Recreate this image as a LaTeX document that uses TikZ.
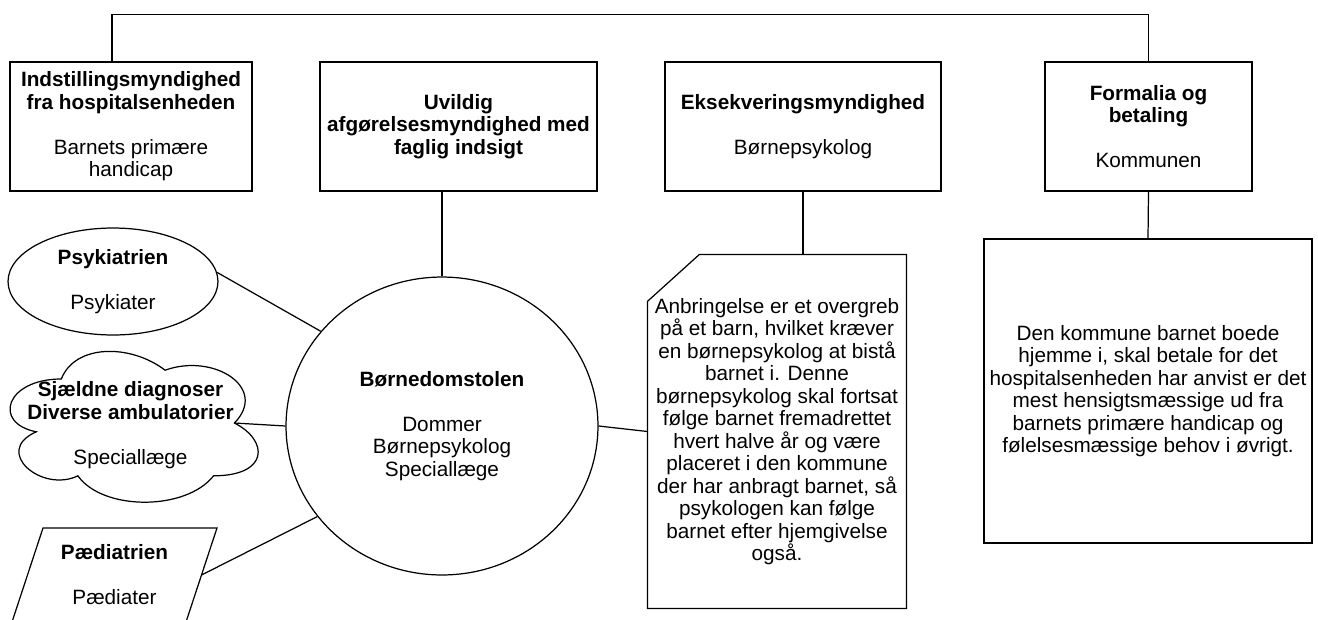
\documentclass[tikz,border=0pt]{standalone}
\usepackage{fontspec}
\setmainfont{Liberation Sans}
\usetikzlibrary{shapes.geometric}

\begin{document}
\begin{tikzpicture}[x=0.02cm, y=-0.02cm, line width=0.7pt,
    every node/.style={font=\fontsize{11.8}{12.8}\selectfont, align=center, inner sep=1pt},
    rolebox/.style={draw, rectangle, minimum height=2.58cm}]
  \useasboundingbox (0, 0) rectangle (1318, 619);

  % Authorities in the top row.
  \node[rolebox, minimum width=4.84cm] (indst) at (131, 126.5)
    {\textbf{Indstillingsmyndighed}\\\textbf{fra hospitalsenheden}\\[12.8pt]Barnets primære\\handicap};
  \node[rolebox, minimum width=5.54cm] (uvildig) at (458.5, 126.5)
    {\textbf{Uvildig}\\\textbf{afgørelsesmyndighed med}\\\textbf{faglig indsigt}};
  \node[rolebox, minimum width=5.52cm] (eksek) at (803, 126.5)
    {\textbf{Eksekveringsmyndighed}\\[12.8pt]Børnepsykolog};
  \node[rolebox, minimum width=4.14cm] (formalia) at (1148.5, 126.5)
    {\textbf{Formalia og}\\\textbf{betaling}\\[12.8pt]Kommunen};
  \draw ([xshift=-0.38cm]indst.north) -- ++(0, -47) -| (formalia.north);

  % The court.
  \node[draw, ellipse, minimum width=6.24cm, minimum height=5.96cm] (court) at (442, 426)
    {\textbf{Børnedomstolen}\\[12.8pt]Dommer\\Børnepsykolog\\Speciallæge};
  \draw (court.north) -- (court.north |- uvildig.south);

  % Specialists on the left.
  \node[draw, ellipse, minimum width=4.2cm, minimum height=2.14cm] (psyk) at (113, 281.5)
    {\textbf{Psykiatrien}\\[12.8pt]Psykiater};

  \draw (61.3, 379) .. controls (5.9, 379) and (-8, 423) .. (36.3, 431.8)
    .. controls (-8, 451.2) and (41.9, 493.4) .. (77.9, 475.8)
    .. controls (102.8, 511) and (185.9, 511) .. (213.6, 475.8)
    .. controls (269, 475.8) and (269, 440.6) .. (234.4, 423)
    .. controls (269, 387.8) and (213.6, 352.6) .. (165.1, 370.2)
    .. controls (130.5, 343.8) and (75.1, 343.8) .. (61.3, 379) -- cycle;
  \node (diag) at (130.5, 425)
    {\textbf{Sjældne diagnoser}\\\textbf{Diverse ambulatorier}\\[12.8pt]Speciallæge};
  \coordinate (diagcusp) at (234.4, 423);

  \draw (43, 528) -- (217, 528) -- (186, 622) -- (12, 622) -- cycle;
  \node (paed) at (114.5, 575) {\textbf{Pædiatrien}\\[12.8pt]Pædiater};
  \coordinate (paedside) at (201.5, 575);

  \draw (psyk.5) -- (court.142);
  \draw (diagcusp) -- (court.west);
  \draw (paedside) -- (court.216);

  % Note below the executing authority.
  \node[minimum width=5.16cm, minimum height=7.06cm] (anbring) at (777, 431.5)
    {Anbringelse er et overgreb\\på et barn, hvilket kræver\\en børnepsykolog at bistå\\barnet i. Denne\\børnepsykolog skal fortsat\\følge barnet fremadrettet\\hvert halve år og være\\placeret i den kommune\\der har anbragt barnet, så\\psykologen kan følge\\barnet efter hjemgivelse\\også.};
  \draw ([xshift=1.04cm]anbring.north west) -- (anbring.north east) -- (anbring.south east)
    -- (anbring.south west) -- ([yshift=-0.94cm]anbring.north west) -- cycle;
  \draw (eksek.south) -- (eksek.south |- anbring.north);
  \draw (court.east) -- (anbring.west);

  % Payment.
  \node[draw, rectangle, minimum width=6.56cm, minimum height=6.08cm] (betaling) at (1148, 391)
    {Den kommune barnet boede\\hjemme i, skal betale for det\\hospitalsenheden har anvist er det\\mest hensigtsmæssige ud fra\\barnets primære handicap og\\følelsesmæssige behov i øvrigt.};
  \draw (formalia.south) -- (betaling.north);
\end{tikzpicture}
\end{document}
